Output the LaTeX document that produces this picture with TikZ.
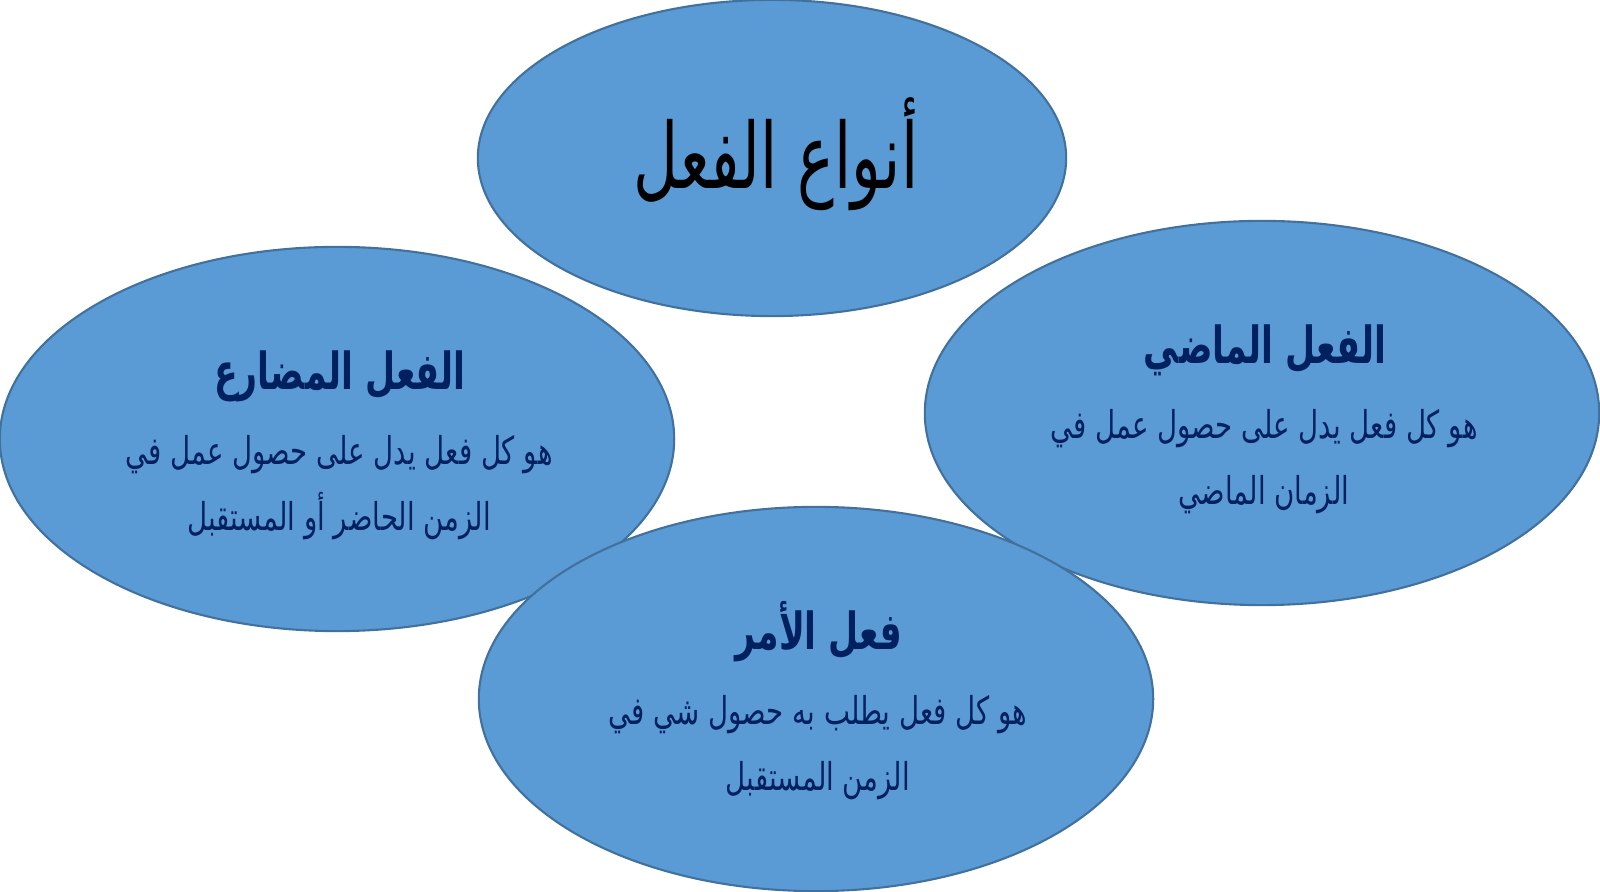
\documentclass[tikz,border=0pt]{standalone}
\usepackage{fontspec}
\usetikzlibrary{shapes.geometric}
\TeXXeTstate=1
\newfontfamily\arabicfont[Script=Arabic, FakeStretch=0.72]{DejaVu Sans}
\newfontfamily\arabichead[Script=Arabic, FakeStretch=0.68]{DejaVu Sans}
\definecolor{verbfill}{HTML}{5B9BD5}
\definecolor{verbline}{HTML}{41719C}
\definecolor{verbtext}{HTML}{002060}

\begin{document}
\begin{tikzpicture}[x=0.01cm, y=-0.01cm,
  every verb/.style={ellipse, draw=verbline, line width=0.6pt, fill=verbfill, inner sep=0pt,
    minimum width=6.74cm, minimum height=3.84cm},
  verb title/.style={text=verbtext, anchor=base, font=\arabichead\bfseries\fontsize{14.5}{17}\selectfont},
  verb text/.style={text=verbtext, anchor=base, font=\arabicfont\fontsize{10.9}{13}\selectfont}]

\useasboundingbox (0,0) rectangle (1600,892);

\node [every verb, minimum width=5.88cm, minimum height=3.16cm] (kinds) at (772,158) {};
\node [anchor=base, font=\arabichead\fontsize{25.9}{30}\selectfont] (kinds-title)
  at ([shift={(4,31)}]kinds.center) {\beginR أنواع الفعل\endR};

\foreach \n/\cx/\cy/\head/\lineA/\lineB in {
  mudari/337/439/الفعل المضارع/هو كل فعل يدل على حصول عمل في/الزمن الحاضر أو المستقبل,
  madi/1262/413/الفعل الماضي/هو كل فعل يدل على حصول عمل في/الزمان الماضي,
  amr/816/699/فعل الأمر/هو كل فعل يطلب به حصول شي في/الزمن المستقبل}
{
  \node [every verb] (\n) at (\cx,\cy) {};
  \node [verb title] (\n-title) at ([shift={(3,-49)}]\n.center) {\beginR\head\endR};
  \node [verb text] (\n-line1) at ([shift={(2,26)}]\n.center) {\beginR\lineA\endR};
  \node [verb text] (\n-line2) at ([shift={(2,92)}]\n.center) {\beginR\lineB\endR};
}

\end{tikzpicture}
\end{document}
